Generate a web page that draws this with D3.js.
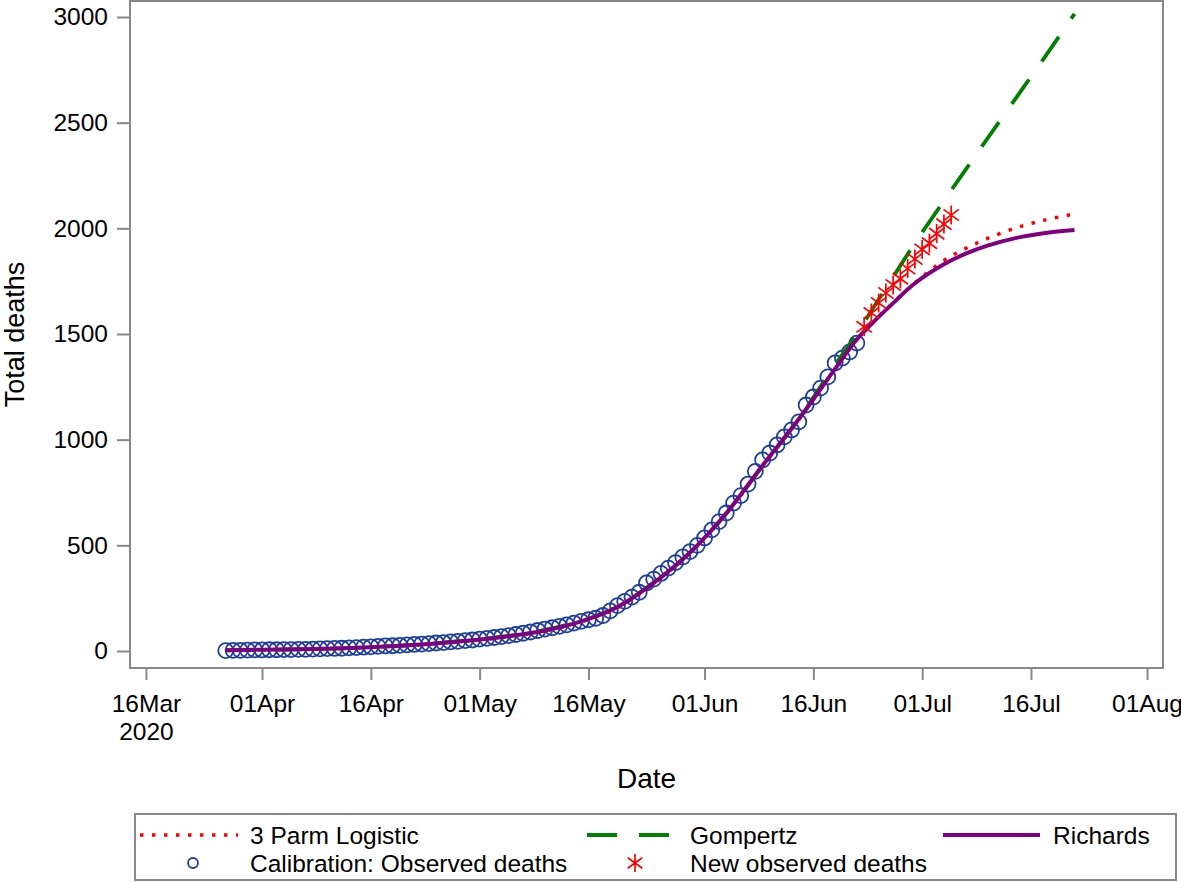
<!DOCTYPE html>
<html>
<head>
<meta charset="utf-8">
<script src="https://cdn.jsdelivr.net/npm/d3@7"></script>
<style>
  body { margin: 0; background: #fff; }
  text { font-family: "Liberation Sans", Arial, sans-serif; fill: #000; }
</style>
</head>
<body>
<div id="container"></div>
<script>
// calibration data: one value per day starting 27Mar2020
const obsStart = "2020-03-27";
const observed = [
  2, 3, 3, 4, 5, 5, 6, 6, 7, 7,
  8, 8, 9, 10, 11, 12, 13, 15, 16, 18,
  20, 22, 24, 25, 27, 29, 31, 33, 35, 38,
  40, 43, 46, 49, 52, 56, 60, 64, 68, 73,
  78, 84, 90, 97, 104, 110, 117, 124, 132, 140,
  148, 155, 168, 190, 215, 235, 255, 278, 322, 340,
  367, 392, 418, 445, 470, 500, 535, 573, 612, 653,
  700, 735, 790, 850, 904, 937, 975, 1013, 1046, 1084,
  1164, 1202, 1244, 1297, 1363, 1386, 1415, 1457
];

// new observed deaths, one per day starting 23Jun2020
const newStart = "2020-06-23";
const newObserved = [1534, 1599, 1647, 1694, 1732, 1762, 1810, 1855, 1900, 1930, 1975, 2020, 2063];

const fitDates = [
  "2020-03-27", "2020-04-05", "2020-04-15", "2020-04-25", "2020-05-05", "2020-05-10",
  "2020-05-15", "2020-05-20", "2020-05-25", "2020-05-30", "2020-06-04", "2020-06-09",
  "2020-06-14", "2020-06-19", "2020-06-22", "2020-06-24", "2020-06-27", "2020-06-30",
  "2020-07-04", "2020-07-07", "2020-07-10", "2020-07-14", "2020-07-18", "2020-07-22"
];
const logistic = [4, 8, 17, 35, 68, 95, 138, 205, 320, 465, 650, 875, 1095, 1335, 1475, 1547, 1648, 1742, 1848, 1905, 1952, 2003, 2040, 2068];
const gompertz = [3, 7, 17, 37, 72, 100, 142, 210, 325, 465, 650, 875, 1100, 1355, 1500, 1610, 1770, 1930, 2130, 2278, 2425, 2620, 2815, 3015];
const richards = [4, 8, 17, 36, 70, 97, 140, 208, 322, 466, 652, 878, 1098, 1335, 1475, 1547, 1646, 1740, 1830, 1880, 1918, 1955, 1978, 1992];

const xTickDates = ["2020-03-16", "2020-04-01", "2020-04-16", "2020-05-01", "2020-05-16",
  "2020-06-01", "2020-06-16", "2020-07-01", "2020-07-16", "2020-08-01"];
const xTickLabels = ["16Mar", "01Apr", "16Apr", "01May", "16May", "01Jun", "16Jun", "01Jul", "16Jul", "01Aug"];
const yTicks = [0, 500, 1000, 1500, 2000, 2500, 3000];

const parse = d3.utcParse("%Y-%m-%d");
const DAY = 864e5;
const W = 1181, H = 882;
const plotL = 130, plotR = 1163, plotT = 1, plotB = 668;
const gray = "#888";
const blue = "#1c3f9e";
const fontFam = '"Liberation Sans", Arial, sans-serif';

const svg = d3.select("#container").append("svg")
  .attr("width", W).attr("height", H);

const x = d3.scaleUtc()
  .domain([new Date(+parse(xTickDates[0]) - 2.2 * DAY), new Date(+parse(xTickDates[9]) + 2.2 * DAY)])
  .range([plotL, plotR]);
const y = d3.scaleLinear().domain([-80.4, 3075.7]).range([plotB, plotT]);

// axes
const xAxis = svg.append("g")
  .attr("transform", `translate(0,${plotB})`)
  .call(d3.axisBottom(x)
    .tickValues(xTickDates.map(parse))
    .tickFormat((d, i) => xTickLabels[i])
    .tickSize(12).tickPadding(15));
xAxis.select(".domain").remove();
xAxis.selectAll("line").attr("stroke", gray).attr("stroke-width", 2);
xAxis.selectAll("text").attr("font-size", 24.5).attr("fill", "#000").style("font-family", fontFam);
xAxis.select(".tick text").append("tspan")
  .attr("x", 0).attr("dy", 28).text("2020");

const yAxis = svg.append("g")
  .attr("transform", `translate(${plotL},0)`)
  .call(d3.axisLeft(y).tickValues(yTicks).tickFormat(d3.format("d")).tickSize(13).tickPadding(9));
yAxis.select(".domain").remove();
yAxis.selectAll("line").attr("stroke", gray).attr("stroke-width", 2);
yAxis.selectAll("text").attr("font-size", 24.5).attr("fill", "#000").style("font-family", fontFam);

svg.append("text")
  .attr("transform", `translate(24,${(plotT + plotB) / 2}) rotate(-90)`)
  .attr("text-anchor", "middle")
  .attr("font-size", 27)
  .text("Total deaths");
svg.append("text")
  .attr("x", (plotL + plotR) / 2).attr("y", 788)
  .attr("text-anchor", "middle")
  .attr("font-size", 28)
  .text("Date");

// data
const obsPts = observed.map((v, i) => ({ date: d3.utcDay.offset(parse(obsStart), i), value: v }));
const newPts = newObserved.map((v, i) => ({ date: d3.utcDay.offset(parse(newStart), i), value: v }));
const fit = arr => arr.map((v, i) => ({ date: parse(fitDates[i]), value: v }));

const plot = svg.append("g");

plot.selectAll("circle.obs")
  .data(obsPts)
  .enter().append("circle")
  .attr("class", "obs")
  .attr("cx", d => x(d.date))
  .attr("cy", d => y(d.value))
  .attr("r", 7.5)
  .attr("fill", "none")
  .attr("stroke", blue)
  .attr("stroke-width", 1.8);

const line = d3.line().x(d => x(d.date)).y(d => y(d.value)).curve(d3.curveCatmullRom.alpha(0.5));

const series = [
  { name: "3 Parm Logistic", values: logistic, color: "#ff0000", width: 3.5, dash: "3.5,8.5" },
  { name: "Gompertz", values: gompertz, color: "#008000", width: 3.8, dash: "30,22" },
  { name: "Richards", values: richards, color: "#800080", width: 4, dash: null }
];

series.forEach(s => {
  plot.append("path")
    .datum(fit(s.values))
    .attr("d", line)
    .attr("fill", "none")
    .attr("stroke", s.color)
    .attr("stroke-width", s.width)
    .attr("stroke-dasharray", s.dash);
});

const starPath = r => {
  const a = r * Math.cos(Math.PI / 5), b = r * Math.sin(Math.PI / 5);
  return `M0,${-r}V${r}M${-a},${-b}L${a},${b}M${-a},${b}L${a},${-b}`;
};

plot.selectAll("path.star")
  .data(newPts)
  .enter().append("path")
  .attr("class", "star")
  .attr("transform", d => `translate(${x(d.date)},${y(d.value)})`)
  .attr("d", starPath(9.5))
  .attr("fill", "none")
  .attr("stroke", "#ff0000")
  .attr("stroke-width", 1.7);

// frame
svg.append("rect")
  .attr("x", plotL).attr("y", plotT)
  .attr("width", plotR - plotL).attr("height", plotB - plotT)
  .attr("fill", "none").attr("stroke", gray).attr("stroke-width", 2);

// legend
const lg = svg.append("g");
lg.append("rect")
  .attr("x", 135).attr("y", 814).attr("width", 1041).attr("height", 66)
  .attr("fill", "none").attr("stroke", gray).attr("stroke-width", 2);

const legendLines = [
  { s: series[0], x1: 140, x2: 238, tx: 250 },
  { s: series[1], x1: 587, x2: 670, tx: 690 },
  { s: series[2], x1: 943, x2: 1040, tx: 1053 }
];
legendLines.forEach(l => {
  lg.append("line")
    .attr("x1", l.x1).attr("x2", l.x2).attr("y1", 835).attr("y2", 835)
    .attr("stroke", l.s.color).attr("stroke-width", l.s.width)
    .attr("stroke-dasharray", l.s.dash);
  lg.append("text").attr("x", l.tx).attr("y", 835).attr("dy", "0.35em")
    .attr("font-size", 24.5).text(l.s.name);
});

lg.append("circle").attr("cx", 193).attr("cy", 863).attr("r", 5)
  .attr("fill", "none").attr("stroke", blue).attr("stroke-width", 1.8);
lg.append("text").attr("x", 250).attr("y", 863).attr("dy", "0.35em")
  .attr("font-size", 24.5).text("Calibration: Observed deaths");
lg.append("path").attr("transform", "translate(635,863)").attr("d", starPath(9))
  .attr("fill", "none").attr("stroke", "#ff0000").attr("stroke-width", 1.7);
lg.append("text").attr("x", 690).attr("y", 863).attr("dy", "0.35em")
  .attr("font-size", 24.5).text("New observed deaths");
</script>
</body>
</html>
